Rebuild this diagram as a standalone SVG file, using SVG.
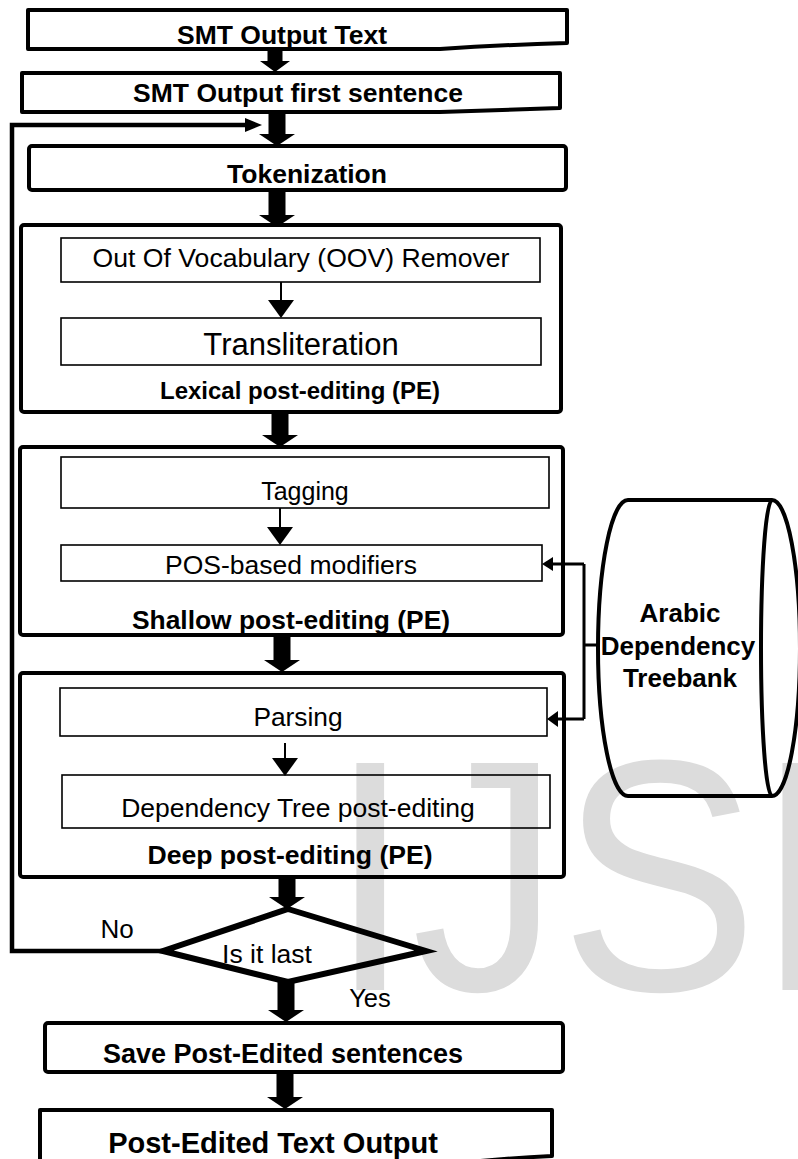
<svg xmlns="http://www.w3.org/2000/svg" width="798" height="1159" viewBox="0 0 798 1159">
<defs>
<style>
.box{fill:none;stroke:#000;stroke-width:4;stroke-linejoin:round}
.inner{fill:none;stroke:#000;stroke-width:1.6}
.t{font-family:"Liberation Sans",Arial,sans-serif;text-anchor:middle;fill:#000}
.b{font-weight:bold}
.ar{fill:#000;stroke:none}
.ln{fill:none;stroke:#000}
</style>
</defs>
<rect width="798" height="1159" fill="#fff"/>
<text transform="translate(329,990) scale(0.9,1)" font-family="Liberation Sans, Arial, sans-serif" font-size="330" fill="#dcdcdc">IJSR</text>

<g id="smt-output-text">
<path class="box" d="M28,10 H567 V43 Q500,45 440,49 H28 Z"/>
<text class="t b" x="282" y="44" font-size="26.5">SMT Output Text</text>
</g>
<g id="smt-first-sentence">
<path class="box" d="M22,73 H560 V108 Q495,110 440,112 H22 Z"/>
<text class="t b" x="298" y="102" font-size="26.5">SMT Output first sentence</text>
</g>
<g id="tokenization">
<rect class="box" x="29" y="146" width="537" height="44" rx="3"/>
<text class="t b" x="307" y="183" font-size="26.5">Tokenization</text>
</g>
<g id="lexical-pe">
<rect class="box" x="21" y="225" width="540" height="187" rx="3"/>
<text class="t b" x="300" y="399" font-size="24">Lexical post-editing (PE)</text>
</g>
<g id="oov-remover">
<rect class="inner" x="61" y="238" width="479" height="44"/>
<text class="t" x="301" y="267" font-size="26.6">Out Of Vocabulary (OOV) Remover</text>
</g>
<g id="transliteration">
<rect class="inner" x="61" y="318" width="480" height="47"/>
<text class="t" x="301" y="355" font-size="31">Transliteration</text>
</g>
<g id="shallow-pe">
<rect class="box" x="20" y="447" width="543" height="188" rx="3"/>
<text class="t b" x="291" y="629" font-size="26.4">Shallow post-editing (PE)</text>
</g>
<g id="tagging">
<rect class="inner" x="61" y="457" width="488" height="51"/>
<text class="t" x="305" y="500" font-size="25">Tagging</text>
</g>
<g id="pos-modifiers">
<rect class="inner" x="61" y="545" width="481" height="36"/>
<text class="t" x="291" y="574" font-size="26.5">POS-based modifiers</text>
</g>
<g id="deep-pe">
<rect class="box" x="20" y="673" width="544" height="204" rx="3"/>
<text class="t b" x="290" y="864" font-size="26.6">Deep post-editing (PE)</text>
</g>
<g id="parsing">
<rect class="inner" x="60" y="688" width="487" height="48"/>
<text class="t" x="298" y="726" font-size="26.3">Parsing</text>
</g>
<g id="dependency-tree-pe">
<rect class="inner" x="62" y="775" width="488" height="53"/>
<text class="t" x="298" y="817" font-size="26.5">Dependency Tree post-editing</text>
</g>
<g id="treebank">
<path class="box" d="M628,500 H772 M628,796 H772 M628,500 A30,148 0 0 0 628,796 M772,500 A11,148 0 0 0 772,796 M772,500 A28,148 0 0 1 772,796"/>
<text class="t b" x="680" y="622" font-size="26">Arabic</text>
<text class="t b" x="678" y="655" font-size="26">Dependency</text>
<text class="t b" x="680" y="687" font-size="26">Treebank</text>
</g>
<g id="is-it-last">
<polygon points="288,909 426,951 288,982 163,951" fill="none" stroke="#000" stroke-width="6" stroke-linejoin="miter"/>
<text class="t" x="267" y="963" font-size="26.5">Is it last</text>
</g>
<g id="save-sentences">
<rect class="box" x="45" y="1023" width="518" height="49" rx="3"/>
<text class="t b" x="283" y="1063" font-size="27">Save Post-Edited sentences</text>
</g>
<g id="post-edited-output">
<path class="box" d="M40,1110 H552 V1156 Q510,1158 470,1162 H40 Z"/>
<text class="t b" x="273" y="1153" font-size="29">Post-Edited Text Output</text>
</g>

<g id="connectors">
<polygon class="ar" points="267.5,48 282.5,48 282.5,61 290,61 275,72 260,61 267.5,61"/>
<polygon class="ar" points="268.5,110 285.5,110 285.5,134 295,134 277,146 259,134 268.5,134"/>
<polygon class="ar" points="268.5,190 285.5,190 285.5,215 295,215 277,227 259,215 268.5,215"/>
<polygon class="ar" points="271.5,412 288.5,412 288.5,435 298,435 280,447 262,435 271.5,435"/>
<polygon class="ar" points="273.5,635 290.5,635 290.5,660 300,660 282,672 264,660 273.5,660"/>
<polygon class="ar" points="278.5,877 295.5,877 295.5,897 305,897 287,909 269,897 278.5,897"/>
<polygon class="ar" points="277.5,982 294.5,982 294.5,1010 304,1010 286,1022 268,1010 277.5,1010"/>
<polygon class="ar" points="276.5,1072 293.5,1072 293.5,1097 303,1097 285,1109 267,1097 276.5,1097"/>
<line class="ln" x1="281" y1="282" x2="281" y2="301" stroke-width="2"/>
<polygon class="ar" points="268,300 294,300 281,318"/>
<line class="ln" x1="280" y1="508" x2="280" y2="528" stroke-width="2"/>
<polygon class="ar" points="267,527 293,527 280,545"/>
<line class="ln" x1="285" y1="743" x2="285" y2="759" stroke-width="2"/>
<polygon class="ar" points="272,758 298,758 285,776"/>
<polyline class="ln" points="163,951 12,951 12,125 247,125" stroke-width="4.5"/>
<polygon class="ar" points="245,118 262,125 245,132"/>
<path class="ln" d="M598,645 H584 M584,564 V719 M584,564 H552 M584,719 H556" stroke-width="3"/>
<polygon class="ar" points="553,557 542,564 553,571"/>
<polygon class="ar" points="558,711 547,719 558,727"/>
</g>
<g id="labels">
<text class="t" x="117" y="938" font-size="26">No</text>
<text class="t" x="370" y="1007" font-size="25.5">Yes</text>
</g>
</svg>
